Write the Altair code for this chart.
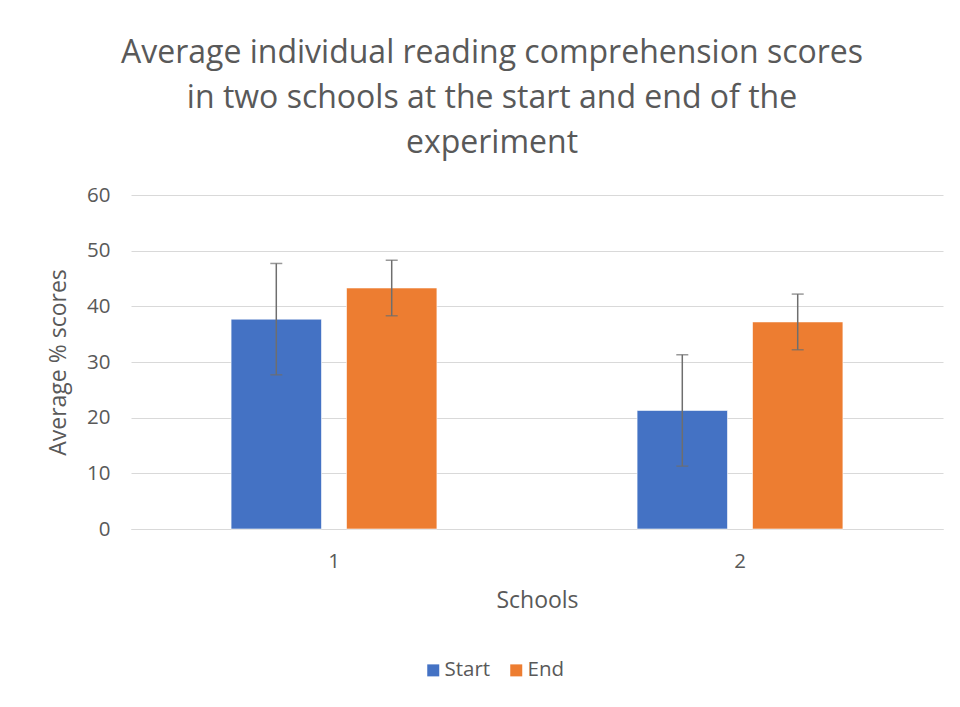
import altair as alt
import pandas as pd

schools = ["1", "2"]
series = ["Start", "End"]
start_means = [37.7, 21.3]
end_means = [43.3, 37.2]
start_err = [10.0, 10.0]
end_err = [5.0, 5.0]
colors = ["#4472C4", "#ED7D31"]

rows = []
for i, s in enumerate(schools):
    for g, m, e in (("Start", start_means[i], start_err[i]), ("End", end_means[i], end_err[i])):
        rows.append({"School": s, "Group": g, "Mean": m, "Lo": m - e, "Hi": m + e})
df = pd.DataFrame(rows)

FONT = "Open Sans"
GRAY = "#595959"

x = alt.X("School:N", title="Schools",
          scale=alt.Scale(paddingInner=0.493, paddingOuter=0.2465),
          axis=alt.Axis(labelAngle=0, ticks=False, domainColor="#d9d9d9",
                        labelPadding=22, titlePadding=18, grid=False))
xoff = alt.XOffset("Group:N", sort=series,
                   scale=alt.Scale(paddingInner=0.2165, paddingOuter=0))

base = alt.Chart(df)

bars = base.mark_bar(stroke="white", strokeWidth=0.6).encode(
    x=x, xOffset=xoff,
    y=alt.Y("Mean:Q", title="Average % scores",
            scale=alt.Scale(domain=[0, 60]),
            axis=alt.Axis(values=[0, 10, 20, 30, 40, 50, 60], ticks=False, domain=False,
                          gridColor="#d9d9d9", labelPadding=21, titlePadding=16)),
    color=alt.Color("Group:N", sort=series,
                    scale=alt.Scale(domain=series, range=colors),
                    legend=alt.Legend(title=None, orient="none", direction="horizontal",
                                      legendX=292, legendY=465, symbolType="square",
                                      symbolSize=144, symbolStrokeWidth=0,
                                      labelFontSize=20.5, labelColor=GRAY, labelFont=FONT,
                                      columnPadding=15, labelOffset=1)),
)

rules = base.mark_rule(color="#6e6e6e", strokeWidth=1.5).encode(
    x=x, xOffset=xoff, y="Lo:Q", y2="Hi:Q")
caps_lo = base.mark_tick(color="#6e6e6e", thickness=1.5, size=12).encode(
    x=x, xOffset=xoff, y="Lo:Q")
caps_hi = base.mark_tick(color="#6e6e6e", thickness=1.5, size=12).encode(
    x=x, xOffset=xoff, y="Hi:Q")

chart = alt.layer(bars, rules, caps_lo, caps_hi).properties(
    width=812, height=334,
    title=alt.TitleParams(
        text=["Average individual reading comprehension scores",
              "in two schools at the start and end of the",
              "experiment"],
        fontSize=32, font=FONT, fontWeight="normal", color=GRAY,
        lineHeight=45, anchor="middle", dx=-45, offset=25),
    autosize=alt.AutoSizeParams(type="none"),
    padding={"left": 123, "top": 187, "right": 9, "bottom": 170},
).configure_view(stroke=None).configure_axis(
    labelFont=FONT, titleFont=FONT, labelColor=GRAY, titleColor=GRAY,
    labelFontSize=20.5, titleFontSize=23, titleFontWeight="normal"
)

chart.save("out.html", embed_options={"renderer": "svg", "actions": False})
